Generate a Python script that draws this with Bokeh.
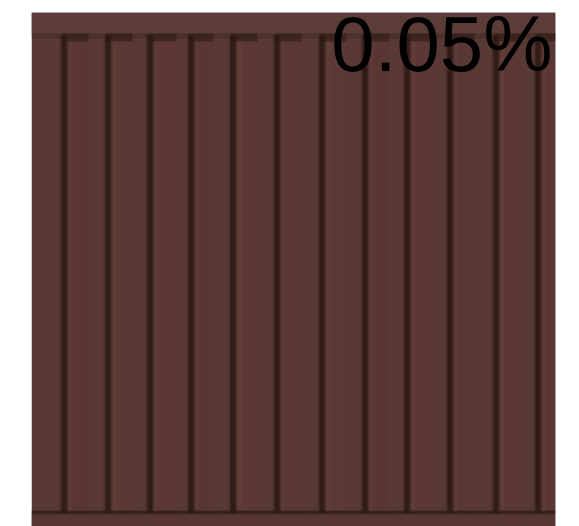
from bokeh.plotting import figure
from bokeh.models import Range1d
from bokeh.core.properties import value
from bokeh.embed import file_html
from bokeh.resources import INLINE

# ---- data (image-pixel units of the container panel photo) ----
panel_width = 524
panel_height = 514
groove_x = [33, 77, 119, 160, 202, 246, 291, 334, 376, 419, 465, 507]
recess_width = [24, 24, 26, 22, 24, 24, 24, 24, 24, 24, 24, 17]
recess_color = ["#593632", "#5a3833", "#5c3733", "#583631", "#5b3833", "#5a3733",
                "#5b3934", "#5a3632", "#5c3834", "#593733", "#5b3833", "#5a3733"]
top_rail = (0, 21)
bottom_rail = (501, 514)
label_text = ["0.05%"]
label_x = [521]
label_y = [31]

p = figure(width=571, height=526, output_backend="svg", toolbar_location=None,
           x_range=Range1d(0, panel_width), y_range=Range1d(panel_height, 0),
           x_axis_location=None, y_axis_location=None,
           min_border_left=31, min_border_right=16, min_border_top=12, min_border_bottom=0)
p.grid.visible = False
p.outline_line_color = None
p.background_fill_color = "white"
p.border_fill_color = "white"

# base panel
p.quad(left=[0], right=[panel_width], top=[0], bottom=[panel_height],
       fill_color="#593934", line_color=None)

# recessed panels
p.quad(left=[g for g in groove_x], right=[g + w for g, w in zip(groove_x, recess_width)],
       top=[top_rail[1]] * len(groove_x), bottom=[bottom_rail[0]] * len(groove_x),
       fill_color=recess_color, line_color=None)

# top rail
p.quad(left=[0], right=[panel_width], top=[top_rail[0]], bottom=[top_rail[1]],
       fill_color="#5c3c37", line_color=None)
p.quad(left=[0], right=[panel_width], top=[top_rail[1]], bottom=[top_rail[1] + 5],
       fill_color="#3a241e", fill_alpha=0.4, line_color=None)
# shadow under top rail over each recess
p.quad(left=[g - 3 for g in groove_x], right=[g + w for g, w in zip(groove_x, recess_width)],
       top=[top_rail[1]] * len(groove_x), bottom=[top_rail[1] + 8] * len(groove_x),
       fill_color="#33201a", fill_alpha=0.7, line_color=None)

# soft highlight right of each groove
p.quad(left=[g + 3 for g in groove_x], right=[g + 8 for g in groove_x],
       top=[top_rail[1] + 8] * len(groove_x), bottom=[bottom_rail[0]] * len(groove_x),
       fill_color="#6b4440", fill_alpha=0.3, line_color=None)
# grooves (soft edge + dark core)
p.quad(left=[g - 5 for g in groove_x], right=[g + 4 for g in groove_x],
       top=[top_rail[1] + 2] * len(groove_x), bottom=[bottom_rail[0]] * len(groove_x),
       fill_color="#2e1c16", fill_alpha=0.3, line_color=None)
p.quad(left=[g - 3 for g in groove_x], right=[g + 2 for g in groove_x],
       top=[top_rail[1] + 2] * len(groove_x), bottom=[bottom_rail[0]] * len(groove_x),
       fill_color="#2a1712", fill_alpha=0.75, line_color=None)

# bottom rail
p.quad(left=[0], right=[panel_width], top=[bottom_rail[0] - 3], bottom=[bottom_rail[0] + 1],
       fill_color="#2e1c16", fill_alpha=0.75, line_color=None)
p.quad(left=[0], right=[panel_width], top=[bottom_rail[0] + 1], bottom=[bottom_rail[1]],
       fill_color="#563532", line_color=None)

# label
p.text(x=label_x, y=label_y, text=label_text, text_align="right", text_baseline="alphabetic",
       text_font=value("Liberation Sans"), text_font_size="78px", text_color="black")

open("out.html", "w").write(file_html(p, INLINE))
